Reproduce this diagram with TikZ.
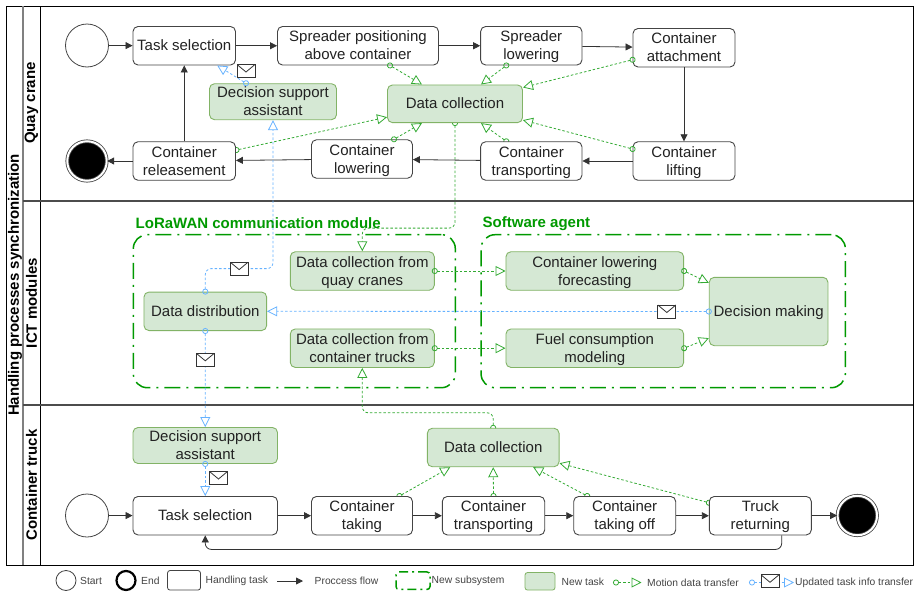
\documentclass[tikz,border=0pt]{standalone}
\usepackage{fontspec}
\setmainfont{Liberation Sans}
\usetikzlibrary{arrows.meta}
\usetikzlibrary{backgrounds}
\usetikzlibrary{shapes,positioning}

\definecolor{textgray}{HTML}{222222}
\definecolor{taskline}{HTML}{444444}
\definecolor{taskfill}{HTML}{D5E8D4}
\definecolor{taskedge}{HTML}{82B366}
\definecolor{motiongreen}{HTML}{33AA33}
\definecolor{updateblue}{HTML}{66B2FF}
\definecolor{groupgreen}{HTML}{009900}

\tikzset{
	oldtask/.style={draw=taskline,fill=white,rounded corners=5pt,line width=0.9pt,inner sep=0pt,
		align=center,text=textgray,minimum height=38.5pt,font=\fontsize{15}{18}\selectfont,
		text height=14pt,text depth=4pt},
	newtask/.style={oldtask,draw=taskedge,fill=taskfill},
	twoline/.style={text height=32pt},
	startnode/.style={circle,draw=taskline,fill=white,line width=0.8pt,minimum size=43pt,inner sep=0pt},
	endnode/.style={circle,fill=black,draw=taskline,double=white,double distance=2pt,line width=0.8pt,minimum size=39.5pt,inner sep=0pt},
	flow/.style={-{Triangle[length=7pt,width=7pt]},line width=0.8pt,draw=black!80},
	motion/.style={{Circle[open,length=6pt,width=6pt]}-{Triangle[open,length=10pt,width=10pt]},
		draw=motiongreen,line width=0.8pt,dash pattern=on 2.5pt off 2pt,shorten <=-3pt,rounded corners=6pt},
	update/.style={motion,draw=updateblue},
	mail/.style={solid,sharp corners,-,shorten <=0pt,draw=black!80,fill=white,line width=0.9pt,minimum width=18pt,minimum height=13pt,inner sep=0pt,
		path picture={\draw[line width=0.8pt] (path picture bounding box.north west) -- ([yshift=-1pt]path picture bounding box.center) -- (path picture bounding box.north east);}},
	group/.style={draw=groupgreen,line width=1.5pt,rounded corners=14pt,inner sep=0pt,
		dash pattern=on 16pt off 6pt on 2pt off 6pt},
	grouptitle/.style={anchor=west,inner sep=0pt,text=groupgreen,font=\fontsize{15}{18}\selectfont\bfseries},
	lanetitle/.style={rotate=90,inner sep=0pt,text=black,font=\fontsize{15}{18}\selectfont\bfseries},
	legendtext/.style={anchor=west,inner sep=0pt,text=textgray!85,font=\fontsize{10.3}{12}\selectfont},
}

\begin{document}
\begin{tikzpicture}[x=1pt,y=-1pt]

	\useasboundingbox (0,0) rectangle (914,592);

	\begin{scope}[on background layer]
		\draw [line width=1pt] (6.5,6) rectangle (913,565);
		\draw [line width=1.2pt, black!50] (23,6) -- (23,565);
		\draw [line width=1pt] (40.5,6) -- (40.5,565);
		\draw [line width=1.1pt, black!70] (23,201) -- (913,201);
		\draw [line width=1.1pt, black!70] (23,405) -- (913,405);
	\end{scope}

	\node [lanetitle] (pooltitle) at (15,285) {Handling processes synchronization};
	\node [lanetitle] (quaytitle) at (31.5,103) {Quay crane};
	\node [lanetitle] (icttitle) at (31.5,303) {ICT modules};
	\node [lanetitle] (trucktitle) at (31.5,485) {Container truck};

	\node [group, minimum width=322pt, minimum height=153pt] (lora) at (294.3,311.2) {};
	\node [group, minimum width=364.3pt, minimum height=153pt] (agent) at (663.2,311.2) {};
	\node [grouptitle] (loratitle) at (135.5,223.5) {LoRaWAN communication module};
	\node [grouptitle] (agenttitle) at (482.5,223.5) {Software agent};

	% quay crane
	\node [startnode] (qstart) at (87,45.5) {};
	\node [oldtask, minimum width=102.5pt] (qselect) at (184.25,45.75) {Task selection};
	\node [oldtask, twoline, minimum width=161pt] (qposition) at (358,45.75) {Spreader positioning\\above container};
	\node [oldtask, twoline, minimum width=101.3pt] (qspread) at (531.3,45.75) {Spreader\\lowering};
	\node [oldtask, twoline, minimum width=102pt] (qattach) at (684,47.75) {Container\\attachment};
	\node [oldtask, twoline, minimum width=102pt] (qlift) at (684,161) {Container\\lifting};
	\node [oldtask, twoline, minimum width=101.3pt] (qtransport) at (531.3,161) {Container\\transporting};
	\node [oldtask, twoline, minimum width=101pt] (qlower) at (362,159) {Container\\lowering};
	\node [oldtask, twoline, minimum width=102.5pt] (qrelease) at (184.25,161) {Container\\releasement};
	\node [endnode] (qend) at (87,161) {};
	\node [newtask, twoline, minimum width=127pt, minimum height=34pt] (qassist) at (273,101.7) {Decision support\\assistant};
	\node [newtask, minimum width=135pt, minimum height=37.7pt] (qdata) at (455,103.8) {Data collection};

	% ict modules
	\node [newtask, minimum width=122.7pt] (distribution) at (205.3,311.3) {Data distribution};
	\node [newtask, twoline, minimum width=144pt] (fromquay) at (362.3,271) {Data collection from\\quay cranes};
	\node [newtask, twoline, minimum width=144pt] (fromtruck) at (362.3,348.2) {Data collection from\\container trucks};
	\node [newtask, twoline, minimum width=177.7pt] (forecast) at (594.8,271) {Container lowering\\forecasting};
	\node [newtask, twoline, minimum width=177.7pt] (fuel) at (594.8,348.2) {Fuel consumption\\modeling};
	\node [newtask, minimum width=118.7pt, minimum height=68.4pt] (decision) at (768.6,311.5) {Decision making};

	% container truck
	\node [newtask, twoline, minimum width=144.5pt, minimum height=34.4pt] (tassist) at (205.25,445.5) {Decision support\\assistant};
	\node [newtask, minimum width=131.7pt] (tdata) at (493.2,447.5) {Data collection};
	\node [startnode] (tstart) at (87,515.5) {};
	\node [oldtask, minimum width=144.5pt] (tselect) at (205.25,515.7) {Task selection};
	\node [oldtask, twoline, minimum width=101pt] (ttake) at (362,515.7) {Container\\taking};
	\node [oldtask, twoline, minimum width=102.4pt] (ttransport) at (493.5,515.7) {Container\\transporting};
	\node [oldtask, twoline, minimum width=102pt] (toff) at (624.7,515.7) {Container\\taking off};
	\node [oldtask, twoline, minimum width=102pt] (treturn) at (760.3,515.7) {Truck\\returning};
	\node [endnode] (tend) at (857.3,515.5) {};

	\draw [flow] (qstart) -- (qselect);
	\draw [flow] (qselect) -- (qposition);
	\draw [flow] (qposition) -- (qspread);
	\draw [flow] (qspread) -- (qattach);
	\draw [flow] (qattach) -- (qlift);
	\draw [flow] (qlift) -- (qtransport);
	\draw [flow] (qtransport) -- (qlower);
	\draw [flow] (qlower) -- (qrelease);
	\draw [flow] (qrelease) -- (qend);
	\draw [flow] (qrelease) -- (qselect);

	\draw [flow] (tstart) -- (tselect);
	\draw [flow] (tselect) -- (ttake);
	\draw [flow] (ttake) -- (ttransport);
	\draw [flow] (ttransport) -- (toff);
	\draw [flow] (toff) -- (treturn);
	\draw [flow] (treturn) -- (tend);
	\draw [flow, rounded corners=6pt] ([xshift=21.4pt]treturn.south) -- ++(0,14) -| (tselect.south);

	\draw [motion] ([xshift=32pt]qposition.south) -- ([xshift=-33pt]qdata.north);
	\draw [motion] ([xshift=-25pt]qspread.south) -- ([xshift=26pt]qdata.north);
	\draw [motion] ([yshift=-12pt]qattach.west) -- ([yshift=-3pt]qdata.north east);
	\draw [motion] ([yshift=12pt]qlift.west) -- ([yshift=3pt]qdata.south east);
	\draw [motion] ([xshift=32pt]qlower.north) -- ([xshift=-33pt]qdata.south);

	\draw [motion] (fromquay.east) -- (forecast.west);
	\draw [motion] (fromtruck.east) -- (fuel.west);
	\draw [motion] (forecast.east) -- ([yshift=-6pt]decision.north west);
	\draw [motion] (fuel.east) -- ([yshift=8pt]decision.south west);

	\draw [update] (decision.west) -- node [mail, pos=0.095] (mailagent) {} (distribution.east);
	\draw [update] (distribution.north) -- ++(0,-23) -| node [mail, pos=0.25] (mailquay) {} (qassist.south);
	\draw [update] (distribution.south) -- node [mail, pos=0.3] (mailtruck) {} (tassist.north);
	\draw [update] (tassist.south) -- (tselect.north);
	\draw [update] ([xshift=-27pt]qassist.north) -- ([xshift=33pt]qselect.south);
	\node [mail] (mailtask) at (218.5,478) {};
	\node [mail] (mailselect) at (246,71) {};

	\begin{scope}[on background layer]
		\draw [motion] ([xshift=-25pt]qtransport.north) -- ([xshift=26pt]qdata.south);
		\draw [motion] ([xshift=0.5pt,yshift=11pt]qrelease.east) -- ([yshift=6pt]qdata.south west);
		\draw [motion] (qdata.south) -- ++(0,105) -| (fromquay.north);
		\draw [motion] (tdata.north) -- ++(0,-15) -| (fromtruck.south);
		\draw [motion] ([xshift=37.5pt]ttake.north) -- ([xshift=-43pt]tdata.south);
		\draw [motion] (ttransport.north) -- (tdata.south);
		\draw [motion] ([xshift=-37.5pt]toff.north) -- ([xshift=40pt]tdata.south);
		\draw [motion] ([yshift=13pt]treturn.west) -- ([yshift=4pt]tdata.south east);
	\end{scope}

	% legend
	\node [circle, draw=taskline, line width=0.8pt, minimum size=20pt, inner sep=0pt] (lgstart) at (66,580.5) {};
	\node [legendtext] (lgstarttext) at (80,581) {Start};
	\node [circle, draw=black, line width=2.2pt, minimum size=19pt, inner sep=0pt] (lgend) at (126,580.5) {};
	\node [legendtext] (lgendtext) at (141,581) {End};
	\node [draw=taskline, line width=0.8pt, rounded corners=2.5pt, minimum width=33pt, minimum height=19.5pt, inner sep=0pt] (lgtask) at (184,580.3) {};
	\node [legendtext] (lgtasktext) at (205.5,581) {Handling task};
	\coordinate (lgflowa) at (277,581);
	\coordinate (lgflowb) at (303,581);
	\draw [flow] (lgflowa) -- (lgflowb);
	\node [legendtext] (lgflowtext) at (314.5,581) {Proccess flow};
	\node [draw=groupgreen, line width=1.5pt, rounded corners=3pt, dash pattern=on 9pt off 4pt on 2pt off 4pt, minimum width=34pt, minimum height=17.5pt, inner sep=0pt] (lggroup) at (413,580.7) {};
	\node [legendtext] (lggrouptext) at (431.5,581) {New subsystem};
	\node [draw=taskedge, fill=taskfill, line width=0.8pt, rounded corners=2.5pt, minimum width=30pt, minimum height=17.5pt, inner sep=0pt] (lgnew) at (540,581.3) {};
	\node [legendtext] (lgnewtext) at (561.5,581.5) {New task};
	\coordinate (lgmotiona) at (616,582.5);
	\coordinate (lgmotionb) at (641.5,582.5);
	\draw [motion] (lgmotiona) -- (lgmotionb);
	\node [legendtext] (lgmotiontext) at (647,582.5) {Motion data transfer};
	\coordinate (lgupdatea) at (752,582.5);
	\coordinate (lgupdateb) at (794,582.5);
	\draw [update] (lgupdatea) -- (lgupdateb);
	\node [mail] (lgmail) at (770,581.3) {};
	\node [legendtext] (lgupdatetext) at (795,582.5) {Updated task info transfer};

\end{tikzpicture}
\end{document}
